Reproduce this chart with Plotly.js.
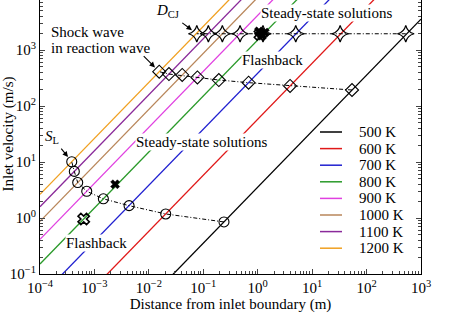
<!DOCTYPE html>
<html>
<head>
<meta charset="utf-8">
<script src="https://cdn.plot.ly/plotly-3.0.1.min.js"></script>
<style>
html,body{margin:0;padding:0;background:#fff;overflow:hidden;}
#chart{position:absolute;left:0;top:-16px;width:451px;height:340px;}
</style>
</head>
<body>
<div id="chart"></div>
<script>
// ---- data ----
const temps = ['500 K','600 K','700 K','800 K','900 K','1000 K','1100 K','1200 K'];
const colors = ['#000000','#e01818','#2020d0','#2a9a2a','#e040e0','#b8865a','#8a2a9a','#f0a020'];
// slope of each steady-state line: inlet velocity / distance (1/s)
const lineSlope = [3.55, 58, 385, 1510, 4160, 8700, 15900, 26400];
const lineDist = [1e-4, 1e3];

// laminar flame (S_L) points
const slDist = [0.24, 0.0204, 4.33e-3, 1.46e-3, 7.22e-4, 4.93e-4, 4.27e-4, 3.83e-4];
const slVel  = [0.85, 1.18, 1.66, 2.2, 3.0, 4.3, 6.8, 10.1];
// shock wave in reaction wave points
const swDist = [54, 3.93, 0.68, 0.193, 0.078, 0.041, 0.0234, 0.0155];
const swVel  = [193, 228, 261, 291, 324, 358, 372, 410];
// CJ detonation points
const cjDist = [525, 32.7, 5.0, 1.25, 0.474, 0.224, 0.124, 0.076];
const cjVel  = [1950, 1950, 1950, 1950, 1950, 1950, 1950, 1950];
// flashback cases (bold crosses)
const fbDist = [2.4e-3, 1.05, 1.2, 1.35, 1.15];
const fbVel  = [4.0, 2150, 1800, 2050, 1950];
const fbOpenDist = [6.35e-4, 1.1];
const fbOpenVel  = [0.96, 1900];

const xTickVals = [1e-4,1e-3,1e-2,1e-1,1,10,100,1000];
const xTickText = ['10<sup>−4</sup>','10<sup>−3</sup>','10<sup>−2</sup>','10<sup>−1</sup>','10<sup>0</sup>','10<sup>1</sup>','10<sup>2</sup>','10<sup>3</sup>'];
const yTickVals = [0.1,1,10,100,1000,10000];
const yTickText = ['10<sup>−1</sup>','10<sup>0</sup>','10<sup>1</sup>','10<sup>2</sup>','10<sup>3</sup>','10<sup>4</sup>'];

function minorVals(lo, hi){ const v=[]; for(let e=lo;e<hi;e++){ for(let m=2;m<=9;m++) v.push(m*Math.pow(10,e)); } return v; }

const FONT = 'Liberation Serif';
const traces = [];
temps.forEach((t,i)=>{
  traces.push({
    x: lineDist, y: lineDist.map(d=>d*lineSlope[i]),
    mode:'lines', name:t, showlegend:false, line:{color:colors[i], width:1.3},
    hoverinfo:'skip'
  });
});
const conn = {color:'#000', width:1, dash:'4px,2px,1px,2px'};
traces.push({x:slDist, y:slVel, mode:'lines+markers', showlegend:false, line:conn,
  marker:{symbol:'circle-open', size:10, color:'#000', line:{width:1.1}}});
traces.push({x:swDist, y:swVel, mode:'lines+markers', showlegend:false, line:conn,
  marker:{symbol:'diamond-open', size:10, color:'#000', line:{width:1.1}}});
traces.push({x:cjDist, y:cjVel, mode:'lines+markers', showlegend:false, line:conn,
  marker:{symbol:'star-diamond-open', size:12, color:'#000', line:{width:1.2}}});
traces.push({x:fbDist, y:fbVel, mode:'markers', showlegend:false,
  marker:{symbol:'x', size:8, color:'#000', line:{width:0.5, color:'#000'}}});
traces.push({x:fbOpenDist, y:fbOpenVel, mode:'markers', showlegend:false,
  marker:{symbol:'x-open', size:10, color:'#000', line:{width:1.6}}});

const px = X => (X-40)/381;
const py = Y => (274-Y)/280;
const txt = (text, X, Y, extra) => Object.assign({
  text:text, xref:'paper', yref:'paper', x:px(X), y:py(Y), xanchor:'center', yanchor:'middle',
  showarrow:false, font:{family:FONT, size:15, color:'#000'}, bgcolor:'#fff', borderpad:0
}, extra||{});
const arrow = (xv, yv, ax, ay) => ({
  text:' ', xref:'x', yref:'y', x:Math.log10(xv), y:Math.log10(yv), ax:ax, ay:ay,
  showarrow:true, arrowhead:2, arrowsize:1, arrowwidth:1.1, arrowcolor:'#000',
  standoff:6, font:{size:1}
});

// legend (drawn as line samples + text labels)
const legShapes = [], legText = [];
temps.forEach((t,i)=>{
  const Y = 132 + i*16.6;
  legShapes.push({type:'line', xref:'paper', yref:'paper', x0:px(320), x1:px(342), y0:py(Y), y1:py(Y),
    line:{color:colors[i], width:1.5}});
  legText.push({text:t, xref:'paper', yref:'paper', x:px(357), y:py(Y), xanchor:'left', yanchor:'middle',
    showarrow:false, font:{family:FONT, size:15, color:'#000'}});
});

const layout = {
  width:451, height:340,
  margin:{l:40, r:30, t:10, b:50},
  paper_bgcolor:'#fff', plot_bgcolor:'#fff',
  font:{family:FONT, size:15, color:'#000'},
  showlegend:false,
  xaxis:{type:'log', range:[-4,3], tickmode:'array', tickvals:xTickVals, ticktext:xTickText,
    ticks:'inside', ticklen:5, tickwidth:1, showline:true, linecolor:'#000', linewidth:1,
    mirror:'ticks', showgrid:false, zeroline:false,
    minor:{tickvals:minorVals(-4,3), ticks:'inside', ticklen:3, tickwidth:1, showgrid:false},
    tickfont:{family:FONT, size:15},
    title:{text:'Distance from inlet boundary (m)', font:{family:FONT, size:15}, standoff:2}},
  yaxis:{type:'log', range:[-1,4], tickmode:'array', tickvals:yTickVals, ticktext:yTickText,
    ticks:'inside', ticklen:5, tickwidth:1, showline:true, linecolor:'#000', linewidth:1,
    mirror:'ticks', showgrid:false, zeroline:false,
    minor:{tickvals:minorVals(-1,4), ticks:'inside', ticklen:3, tickwidth:1, showgrid:false},
    tickfont:{family:FONT, size:15},
    title:{text:'Inlet velocity (m/s)', font:{family:FONT, size:15}, standoff:2}},
  shapes: legShapes,
  annotations:[
    txt('<i>D</i><sub>CJ</sub>', 167, 11),
    arrow(cjDist[7], cjVel[7], -16, -12),
    txt('Shock wave', 50, 32, {xanchor:'left'}),
    txt('in reaction wave', 50, 48, {xanchor:'left'}),
    arrow(swDist[7], swVel[7], -17, -17),
    txt('<i>S</i><sub>L</sub>', 52, 137),
    arrow(slDist[7], slVel[7], -12, -15),
    txt('Steady-state solutions', 326, 13),
    txt('Flashback', 272, 60),
    txt('Steady-state solutions', 201, 142),
    txt('Flashback', 96.5, 243)
  ].concat(legText)
};

Plotly.newPlot('chart', traces, layout, {staticPlot:true, displayModeBar:false});
</script>
</body>
</html>
